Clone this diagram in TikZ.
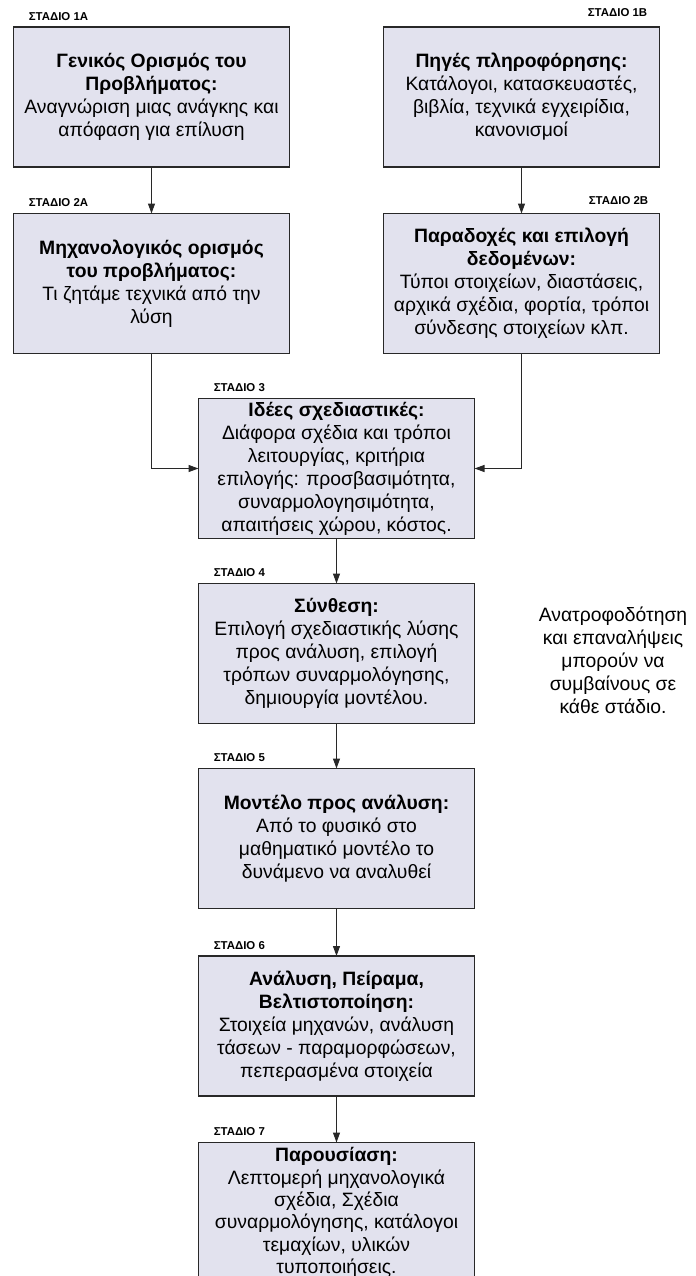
\documentclass[tikz,border=0pt]{standalone}
\usepackage{fontspec}
\setmainfont{Liberation Sans}
\usetikzlibrary{arrows.meta,positioning}
\definecolor{boxfill}{RGB}{226,226,238}
\definecolor{boxline}{RGB}{40,40,40}

\begin{document}
\begin{tikzpicture}[
    node distance=0.9cm,
    block/.style={rectangle, draw=boxline, line width=1pt, fill=boxfill, minimum width=5.52cm, minimum height=2.8cm, align=center, inner xsep=2pt, inner ysep=1pt, outer sep=0pt, font=\fontsize{11}{13.1}\selectfont},
    stage/.style={inner sep=0pt, font=\fontsize{6.5}{7}\selectfont\bfseries},
    note/.style={align=center, inner sep=0pt, font=\fontsize{11}{13.1}\selectfont},
    arrow/.style={-{Triangle[length=2mm, width=1.4mm]}, line width=0.6pt, draw=boxline}
]
    \useasboundingbox (0,0) rectangle (13.9,-25.52);
    \clip (0,0) rectangle (13.9,-25.52);

    \node[block] (b1a) at (3.03,-1.94) {\textbf{Γενικός Ορισμός του}\\\textbf{Προβλήματος:}\\Αναγνώριση μιας ανάγκης και\\απόφαση για επίλυση};
    \node[block, right=1.88cm of b1a] (b1b) {\textbf{Πηγές πληροφόρησης:}\\Κατάλογοι, κατασκευαστές,\\βιβλία, τεχνικά εγχειρίδια,\\κανονισμοί};
    \node[block, below=0.93cm of b1a] (b2a) {\textbf{Μηχανολογικός ορισμός}\\\textbf{του προβλήματος:}\\Τι ζητάμε τεχνικά από την\\λύση};
    \node[block, below=0.93cm of b1b] (b2b) {\textbf{Παραδοχές και επιλογή}\\\textbf{δεδομένων:}\\Τύποι στοιχείων, διαστάσεις,\\αρχικά σχέδια, φορτία, τρόποι\\σύνδεσης στοιχείων κλπ.};
    \path (b2a.south) -- (b2b.south) coordinate[midway] (mid);
    \node[block, below=of mid] (b3) {\textbf{Ιδέες σχεδιαστικές:}\\Διάφορα σχέδια και τρόποι\\λειτουργίας, κριτήρια\\επιλογής: προσβασιμότητα,\\συναρμολογησιμότητα,\\απαιτήσεις χώρου, κόστος.};
    \node[block, below=of b3] (b4) {\textbf{Σύνθεση:}\\Επιλογή σχεδιαστικής λύσης\\προς ανάλυση, επιλογή\\τρόπων συναρμολόγησης,\\δημιουργία μοντέλου.};
    \node[block, below=of b4] (b5) {\textbf{Μοντέλο προς ανάλυση:}\\Από το φυσικό στο\\μαθηματικό μοντέλο το\\δυνάμενο να αναλυθεί};
    \node[block, below=0.95cm of b5] (b6) {\textbf{Ανάλυση, Πείραμα,}\\\textbf{Βελτιστοποίηση:}\\Στοιχεία μηχανών, ανάλυση\\τάσεων - παραμορφώσεων,\\πεπερασμένα στοιχεία};
    \node[block, below=0.93cm of b6, inner ysep=0pt, font=\fontsize{11}{12.7}\selectfont] (b7) {\textbf{Παρουσίαση:}\\Λεπτομερή μηχανολογικά\\σχέδια, Σχέδια\\συναρμολόγησης, κατάλογοι\\τεμαχίων, υλικών\\τυποποιήσεις.};

    % stage labels
    \node[stage, anchor=south west] (s1a) at ([xshift=0.3cm, yshift=0.13cm]b1a.north west) {ΣΤΑΔΙΟ 1Α};
    \node[stage, anchor=south east] (s1b) at ([xshift=-0.24cm, yshift=0.2cm]b1b.north east) {ΣΤΑΔΙΟ 1Β};
    \node[stage, anchor=south west] (s2a) at ([xshift=0.3cm, yshift=0.13cm]b2a.north west) {ΣΤΑΔΙΟ 2Α};
    \node[stage, anchor=south east] (s2b) at ([xshift=-0.22cm, yshift=0.18cm]b2b.north east) {ΣΤΑΔΙΟ 2Β};
    \node[stage, anchor=south west] (s3) at ([xshift=0.3cm, yshift=0.13cm]b3.north west) {ΣΤΑΔΙΟ 3};
    \node[stage, anchor=south west] (s4) at ([xshift=0.3cm, yshift=0.13cm]b4.north west) {ΣΤΑΔΙΟ 4};
    \node[stage, anchor=south west] (s5) at ([xshift=0.3cm, yshift=0.13cm]b5.north west) {ΣΤΑΔΙΟ 5};
    \node[stage, anchor=south west] (s6) at ([xshift=0.3cm, yshift=0.13cm]b6.north west) {ΣΤΑΔΙΟ 6};
    \node[stage, anchor=south west] (s7) at ([xshift=0.3cm, yshift=0.13cm]b7.north west) {ΣΤΑΔΙΟ 7};

    \node[note, right=1.28cm of b4, yshift=-0.14cm] (fb) {Ανατροφοδότηση\\και επαναλήψεις\\μπορούν να\\συμβαίνους σε\\κάθε στάδιο.};

    \draw[arrow] (b1a) -- (b2a);
    \draw[arrow] (b1b) -- (b2b);
    \draw[arrow] (b2a.south) |- (b3);
    \draw[arrow] (b2b.south) |- (b3);
    \draw[arrow] (b3) -- (b4);
    \draw[arrow] (b4) -- (b5);
    \draw[arrow] (b5) -- (b6);
    \draw[arrow] (b6) -- (b7);
\end{tikzpicture}
\end{document}
